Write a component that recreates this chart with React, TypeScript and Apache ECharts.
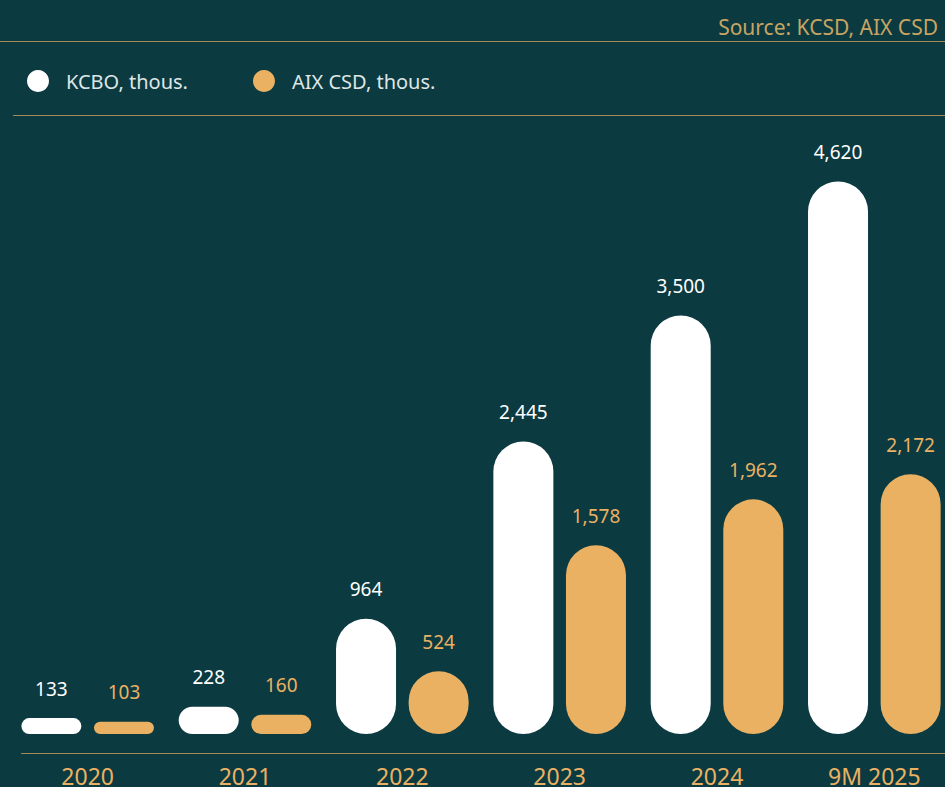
import React, { useEffect, useRef } from "react";
import * as echarts from "echarts";

const categories = ["2020", "2021", "2022", "2023", "2024", "9M 2025"];
const kcboValues = [133, 228, 964, 2445, 3500, 4620];
const aixValues = [103, 160, 524, 1578, 1962, 2172];
const seriesNames = ["KCBO, thous.", "AIX CSD, thous."];
const sourceText = "Source: KCSD, AIX CSD";

const BG = "#0b3a41";
const GOLD = "#eab163";
const LINE = "#a38a56";
const FONT = "'Noto Sans', sans-serif";

export default function App() {
  const ref = useRef<HTMLDivElement>(null);
  useEffect(() => {
    if (!ref.current) return;
    const chart = echarts.init(ref.current, null, { renderer: "svg" });
    const fmt = (p: any) => Number(p.value).toLocaleString("en-US");
    chart.setOption({
      animation: false,
      backgroundColor: BG,
      legend: {
        left: 22,
        top: 65,
        icon: "circle",
        itemWidth: 22,
        itemHeight: 22,
        itemGap: 65,
        data: seriesNames,
        textStyle: {
          color: "#dfe6e6",
          fontSize: 20,
          fontFamily: FONT,
          padding: [0, 0, 0, 12],
        },
      },
      grid: { left: 9, right: 0, top: 136, bottom: 50 },
      xAxis: {
        type: "category",
        data: categories,
        axisLine: { show: false },
        axisTick: { show: false },
        axisLabel: {
          color: GOLD,
          fontSize: 23,
          lineHeight: 23,
          margin: 30,
          fontFamily: FONT,
        },
      },
      yAxis: {
        type: "value",
        min: 0,
        max: 5000,
        show: false,
        splitLine: { show: false },
      },
      series: [
        {
          name: seriesNames[0],
          type: "bar",
          data: kcboValues,
          barWidth: 60,
          barGap: "21%",
          itemStyle: { color: "#ffffff", borderRadius: 30 },
          label: {
            show: true,
            position: "top",
            distance: 20,
            color: "#ffffff",
            fontSize: 19,
            fontFamily: FONT,
            formatter: fmt,
          },
        },
        {
          name: seriesNames[1],
          type: "bar",
          data: aixValues,
          barWidth: 60,
          itemStyle: { color: GOLD, borderRadius: 30 },
          label: {
            show: true,
            position: "top",
            distance: 20,
            color: GOLD,
            fontSize: 19,
            fontFamily: FONT,
            formatter: fmt,
          },
        },
      ],
      graphic: [
        {
          type: "text",
          x: 938,
          y: 27,
          style: {
            text: sourceText,
            fill: "#c8a462",
            fontSize: 21,
            fontFamily: FONT,
            textAlign: "right",
            textVerticalAlign: "middle",
          },
        },
        {
          type: "line",
          shape: { x1: 0, y1: 41.5, x2: 945, y2: 41.5 },
          style: { stroke: LINE, lineWidth: 1.2 },
        },
        {
          type: "line",
          shape: { x1: 13, y1: 115.5, x2: 945, y2: 115.5 },
          style: { stroke: LINE, lineWidth: 1.2 },
        },
        {
          type: "line",
          shape: { x1: 21, y1: 753.5, x2: 945, y2: 753.5 },
          style: { stroke: LINE, lineWidth: 1.2 },
        },
      ],
    });
    return () => chart.dispose();
  }, []);
  return (
    <div
      style={{
        position: "fixed",
        left: 0,
        top: 0,
        width: 945,
        height: 787,
        overflow: "hidden",
        background: BG,
      }}
    >
      <div ref={ref} style={{ width: 953, height: 787 }} />
    </div>
  );
}
